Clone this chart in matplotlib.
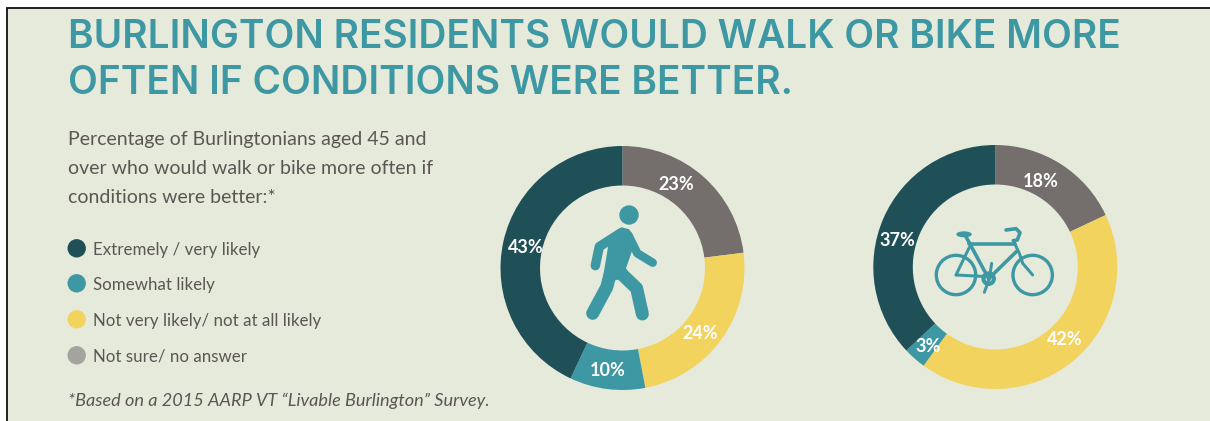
import matplotlib
matplotlib.use("Agg")
import matplotlib.pyplot as plt
from matplotlib.patches import Circle, Ellipse, Rectangle, Polygon
from matplotlib.lines import Line2D

# Survey results, in clockwise order from twelve o'clock
categories = ["Not sure/ no answer", "Not very likely/ not at all likely",
              "Somewhat likely", "Extremely / very likely"]
walk_values = [23, 24, 10, 43]
bike_values = [18, 42, 3, 37]
legend_order = ["Extremely / very likely", "Somewhat likely",
                "Not very likely/ not at all likely", "Not sure/ no answer"]

title_lines = ["BURLINGTON RESIDENTS WOULD WALK OR BIKE MORE",
               "OFTEN IF CONDITIONS WERE BETTER."]
intro_lines = ["Percentage of Burlingtonians aged 45 and",
               "over who would walk or bike more often if",
               "conditions were better:*"]
footnote = "*Based on a 2015 AARP VT \u201cLivable Burlington\u201d Survey."

DARK, TEAL, YELLOW, GRAY = "#1f5058", "#3d98a3", "#f2d35e", "#746e6d"
KEY_GRAY = "#a5a3a0"
BG = "#e6eadb"
TEXT = "#5b5655"
slice_colors = [GRAY, YELLOW, TEAL, DARK]
key_colors = {"Extremely / very likely": DARK, "Somewhat likely": TEAL,
              "Not very likely/ not at all likely": YELLOW,
              "Not sure/ no answer": KEY_GRAY}

W, H = 1210, 421
OUTER, INNER = 122, 82.5
fig = plt.figure(figsize=(W / 100, H / 100), dpi=100, facecolor="white")

# Full-figure layer addressed in pixels, y pointing down
bg = fig.add_axes([0, 0, 1, 1])
bg.set_xlim(0, W)
bg.set_ylim(H, 0)
bg.axis("off")
bg.add_patch(Rectangle((6.5, 8), W, H, facecolor=BG, edgecolor="#111111", linewidth=1.3))


def donut(cx, cy, values):
    ax = fig.add_axes([(cx - OUTER) / W, 1 - (cy + OUTER) / H, 2 * OUTER / W, 2 * OUTER / H])
    ax.pie(values, colors=slice_colors, startangle=90, counterclock=False, radius=1,
           wedgeprops=dict(width=1 - INNER / OUTER, linewidth=0))
    ax.set_xlim(-1, 1)
    ax.set_ylim(-1, 1)
    ax.patch.set_alpha(0)


WALK_C = (622.5, 268)
BIKE_C = (995.3, 267)
donut(*WALK_C, walk_values)
donut(*BIKE_C, bike_values)

fg = fig.add_axes([0, 0, 1, 1])
fg.set_xlim(0, W)
fg.set_ylim(H, 0)
fg.axis("off")
fg.patch.set_alpha(0)

# Heading and explanatory copy
for line, y in zip(title_lines, (48, 94.5)):
    fg.text(68, y, line, family="Inter", weight="semibold", fontsize=27.9, color=TEAL, va="baseline")
for line, y in zip(intro_lines, (145, 174, 203)):
    fg.text(67.5, y, line, family="Lato", fontsize=14, color=TEXT, va="baseline")
fg.text(68, 406, footnote, family="Lato", style="italic", fontsize=13.1, color=TEXT, va="baseline")

# Colour key
for name, y in zip(legend_order, (248.3, 283.3, 319.3, 355.3)):
    fg.add_patch(Circle((76.7, y), 9.2, color=key_colors[name], lw=0))
    fg.text(93, y, name, family="Lato", fontsize=12.2, color=TEXT, va="center_baseline")

# Percentage labels, placed by hand on each ring as pixel offsets from its centre
walk_offsets = [(53.5, -85), (77.5, 63.7), (-14.8, 100.7), (-96.8, -22.3)]
bike_offsets = [(45.7, -87), (69.7, 71), (-67, 78), (-97.6, -27.7)]
for (cx, cy), values, offsets in ((WALK_C, walk_values, walk_offsets), (BIKE_C, bike_values, bike_offsets)):
    for v, (dx, dy) in zip(values, offsets):
        fg.text(cx + dx, cy + dy, f"{v}%", family="Lato", weight="bold", fontsize=13,
                color="white", ha="center", va="center_baseline")


def stroke(pts, width, ax=fg, color=TEAL):
    xs, ys = zip(*pts)
    ax.add_line(Line2D(xs, ys, color=color, lw=width * 0.72, solid_capstyle="round",
                       solid_joinstyle="round"))


# Walking figure
def wp(x, y):
    return (580 + x / 3, 200 + y / 3)


fg.add_patch(Circle(wp(147, 45), 9.7, color=TEAL, lw=0))
fg.add_patch(Polygon([wp(*p) for p in [(125, 82), (148, 88), (165, 125), (152, 165), (138, 205),
                                       (150, 225), (110, 240), (66, 250), (85, 135)]],
                     closed=True, color=TEAL, lw=0))
stroke([wp(125, 97), wp(58, 140), wp(46, 197)], 9.5)
stroke([wp(145, 105), wp(172, 160), wp(218, 188)], 8.5)
stroke([wp(90, 225), wp(80, 262), wp(38, 340)], 13)
stroke([wp(125, 222), wp(170, 265), wp(187, 342)], 13)


# Bicycle
def bp(x, y):
    return (930 + x / 3, 220 + y / 3)


for c in ((78, 165), (308, 165)):
    fg.add_patch(Circle(bp(*c), 19.7, fill=False, edgecolor=TEAL, lw=2.4))
stroke([bp(108, 50), bp(176, 176)], 3.6)
stroke([bp(118, 72), bp(255, 72)], 3.6)
stroke([bp(262, 92), bp(176, 176)], 3.6)
stroke([bp(118, 82), bp(78, 165)], 3)
stroke([bp(78, 165), bp(176, 170)], 3)
stroke([bp(250, 62), bp(268, 100), bp(278, 130), bp(308, 165)], 3)
stroke([bp(228, 30), bp(258, 26), bp(270, 38), bp(262, 60), bp(250, 62)], 3.6)
stroke([bp(185, 130), bp(178, 176), bp(163, 217)], 3)
fg.add_patch(Ellipse(bp(102, 43), 15.5, 6, color=TEAL, lw=0))
fg.add_patch(Circle(bp(176, 176), 5.2, fill=False, edgecolor=TEAL, lw=3))

fig.savefig("out.png", dpi=100, facecolor=fig.get_facecolor())
